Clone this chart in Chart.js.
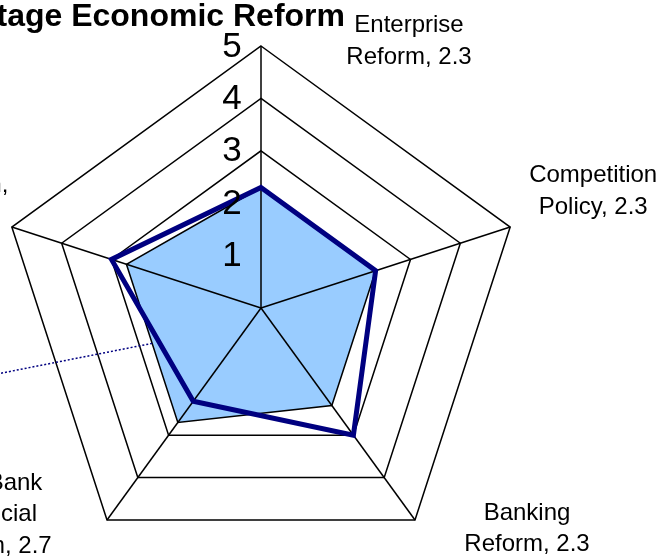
<!DOCTYPE html>
<html><head><meta charset="utf-8">
<script src="https://cdn.jsdelivr.net/npm/chart.js@4/dist/chart.umd.min.js"></script>
<style>
html,body{margin:0;padding:0;background:#fff;overflow:hidden;width:667px;height:558px;}
#wrap{position:absolute;left:-40px;top:0;width:707px;height:600px;}
</style></head><body>
<div id="wrap"><canvas id="c"></canvas></div>
<script>
// ---- data ----
const titleText = "Second-Stage Economic Reform";
const categories = ["Enterprise Reform", "Competition Policy", "Banking Reform", "Non-Bank Financial Reform", "Infrastructure Reform"];
const areaValues = [2.3, 2.3, 2.3, 2.7, 2.7];
const lineValues = [2.3, 2.3, 3.0, 2.2, 3.0];
const tickValues = [1, 2, 3, 4, 5];

// ---- styles / layout ----
const FONT = "'Liberation Sans', Arial, sans-serif";
const labelStyle = [
  {dx: 148, dy: -14, maxW: 140},
  {dx: 83,  dy: -45, maxW: 140},
  {dx: 112, dy: 0,   maxW: 140},
  {dx: -118, dy: -30, maxW: 140},
  {dx: -120, dy: -35, maxW: 250}
];
const LINE_H = 31.5;

function wrapText(ctx, text, maxW) {
  const words = text.split(' ');
  const lines = [];
  let cur = '';
  for (const w of words) {
    const t = cur ? cur + ' ' + w : w;
    if (cur && ctx.measureText(t).width > maxW) { lines.push(cur); cur = w; }
    else cur = t;
  }
  if (cur) lines.push(cur);
  return lines;
}

const overlay = {
  id: 'overlay',
  afterDatasetDraw(chart, args) {
    if (args.index !== 1) return;
    const s = chart.scales.r, ctx = chart.ctx;
    ctx.save();
    ctx.strokeStyle = '#000';
    ctx.lineWidth = 1.5;
    for (let i = 0; i < categories.length; i++) {
      const p = s.getPointPositionForValue(i, s.max);
      ctx.beginPath();
      ctx.moveTo(s.xCenter, s.yCenter);
      ctx.lineTo(p.x, p.y);
      ctx.stroke();
    }
    // dotted leader line from the filled series edge
    const m = chart.getDatasetMeta(1).data;
    const mx = (m[3].x + m[4].x) / 2, my = (m[3].y + m[4].y) / 2;
    ctx.strokeStyle = '#000080';
    ctx.lineWidth = 1.5;
    ctx.setLineDash([2, 2]);
    ctx.beginPath();
    ctx.moveTo(mx, my);
    ctx.lineTo(mx - 456, my + 90);
    ctx.stroke();
    ctx.restore();
  },
  afterDraw(chart) {
    const s = chart.scales.r, ctx = chart.ctx;
    ctx.save();
    // tick labels
    ctx.fillStyle = '#000';
    ctx.font = '35px ' + FONT;
    ctx.textAlign = 'center';
    ctx.textBaseline = 'middle';
    for (const v of tickValues) {
      const y = s.yCenter - s.getDistanceFromCenterForValue(v);
      ctx.fillText(String(v), s.xCenter - 29, y + 1);
    }
    // data labels
    ctx.font = '24px ' + FONT;
    ctx.textBaseline = 'alphabetic';
    for (let i = 0; i < categories.length; i++) {
      const p = s.getPointPositionForValue(i, s.max);
      const st = labelStyle[i];
      const lines = wrapText(ctx, categories[i] + ', ' + areaValues[i].toFixed(1), st.maxW);
      lines.forEach((ln, k) => ctx.fillText(ln, p.x + st.dx, p.y + st.dy + k * LINE_H));
    }
    // title
    ctx.font = 'bold 32px ' + FONT;
    ctx.textAlign = 'right';
    ctx.fillText(titleText, s.xCenter + 84, 26);
    ctx.restore();
  }
};

new Chart(document.getElementById('c'), {
  type: 'radar',
  data: {
    labels: categories,
    datasets: [
      {
        label: 'Line',
        data: lineValues,
        borderColor: '#000080',
        borderWidth: 5,
        borderJoinStyle: 'miter',
        fill: false,
        pointRadius: 0,
        pointHoverRadius: 0,
        tension: 0
      },
      {
        label: 'Area',
        data: areaValues,
        backgroundColor: '#99CCFF',
        borderColor: '#000000',
        borderWidth: 1.5,
        fill: true,
        pointRadius: 0,
        pointHoverRadius: 0,
        tension: 0
      }
    ]
  },
  options: {
    responsive: true,
    maintainAspectRatio: false,
    animation: false,
    layout: {padding: {left: 39, right: 144, top: 46, bottom: 30}},
    plugins: {legend: {display: false}, tooltip: {enabled: false}, title: {display: false}},
    scales: {
      r: {
        min: 0,
        max: 5,
        ticks: {display: false, stepSize: 1},
        grid: {color: '#000', lineWidth: 1.5, circular: false},
        angleLines: {display: false},
        pointLabels: {display: false}
      }
    }
  },
  plugins: [overlay]
});
</script>
</body></html>
